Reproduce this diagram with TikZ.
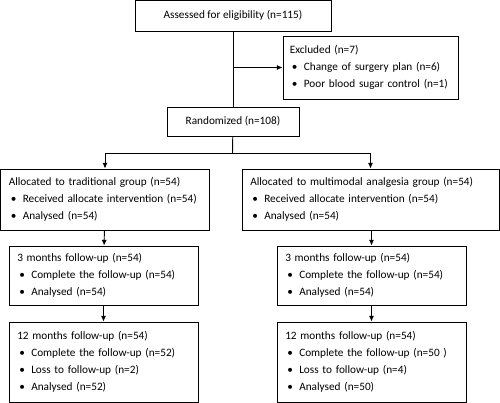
\documentclass[tikz,border=0pt]{standalone}
\usepackage{fontspec}
\setmainfont{Carlito}
\usetikzlibrary{positioning, arrows.meta}
\newcommand{\bitem}[1]{\makebox[10.5pt][l]{\hspace{1.5pt}\textbullet}#1}
\tikzset{
  box/.style={draw, line width=0.7pt, inner xsep=6.2pt, inner ysep=0pt,
    align=left, font=\fontsize{8.45}{12.75}\selectfont},
  cbox/.style={box, align=center},
  flow/.style={line width=0.7pt},
  flowarr/.style={flow, -{Latex[length=4.2pt, width=3.8pt]}}
}
\begin{document}
\begin{tikzpicture}[x=0.75pt, y=-0.75pt]
                \useasboundingbox (0,0) rectangle (500,403);
                % Nodes
                \node[cbox, minimum width=147pt, minimum height=23.25pt] (assess) at (233, 15.5) {Assessed for eligibility (n=115)};
                \node[box, text width=121pt, inner xsep=5.1pt, minimum height=47.25pt] (excl) at (370.5, 67.5)
                    {Excluded (n=7)\\ \bitem{Change of surgery plan (n=6)}\\ \bitem{Poor blood sugar control (n=1)}};
                \node[cbox, minimum width=99pt, minimum height=21.75pt] (rand) at (233, 121.5) {Randomized (n=108)};

                \node[box, text width=144.35pt, minimum height=45.75pt] (allocL) at (105, 199.5)
                    {Allocated to traditional group (n=54)\\ \bitem{Received allocate intervention (n=54)}\\ \bitem{Analysed (n=54)}};
                \node[box, text width=180.35pt, minimum height=45.75pt] (allocR) at (370.5, 199.5)
                    {Allocated to multimodal analgesia group (n=54)\\ \bitem{Received allocate intervention (n=54)}\\ \bitem{Analysed (n=54)}};

                \node[box, text width=129.35pt, minimum height=44.25pt] (fuL) at (103.5, 275.5)
                    {3 months follow-up (n=54)\\ \bitem{Complete the follow-up (n=54)}\\ \bitem{Analysed (n=54)}};
                \node[box, text width=129.35pt, minimum height=44.25pt] (fuR) at (371.5, 275.5)
                    {3 months follow-up (n=54)\\ \bitem{Complete the follow-up (n=54)}\\ \bitem{Analysed (n=54)}};

                \node[box, text width=129.35pt, minimum height=60pt] (fuLL) at (103.5, 362)
                    {12 months follow-up (n=54)\\ \bitem{Complete the follow-up (n=52)}\\ \bitem{Loss to follow-up (n=2)}\\ \bitem{Analysed (n=52)}};
                \node[box, text width=129.35pt, minimum height=60pt] (fuRR) at (371.5, 362)
                    {12 months follow-up (n=54)\\ \bitem{Complete the follow-up (n=50 )}\\ \bitem{Loss to follow-up (n=4)}\\ \bitem{Analysed (n=50)}};

                \coordinate (branch) at (assess.south |- excl.west);
                \coordinate (split) at (232.5, 153);

                % Edges
                \draw[flow] (assess) -- (rand);
                \draw[flowarr] (branch) -- (excl);
                \draw[flow] (rand) -- (split);
                \draw[flowarr] (split) -| (allocL);
                \draw[flowarr] (split) -| (allocR);
                \draw[flowarr] (allocL) -- (fuL);
                \draw[flowarr] (allocR.south -| fuR.north) -- (fuR);
                \draw[flowarr] (fuL) -- (fuLL);
                \draw[flowarr] (fuR) -- (fuRR);
            \end{tikzpicture}
\end{document}
